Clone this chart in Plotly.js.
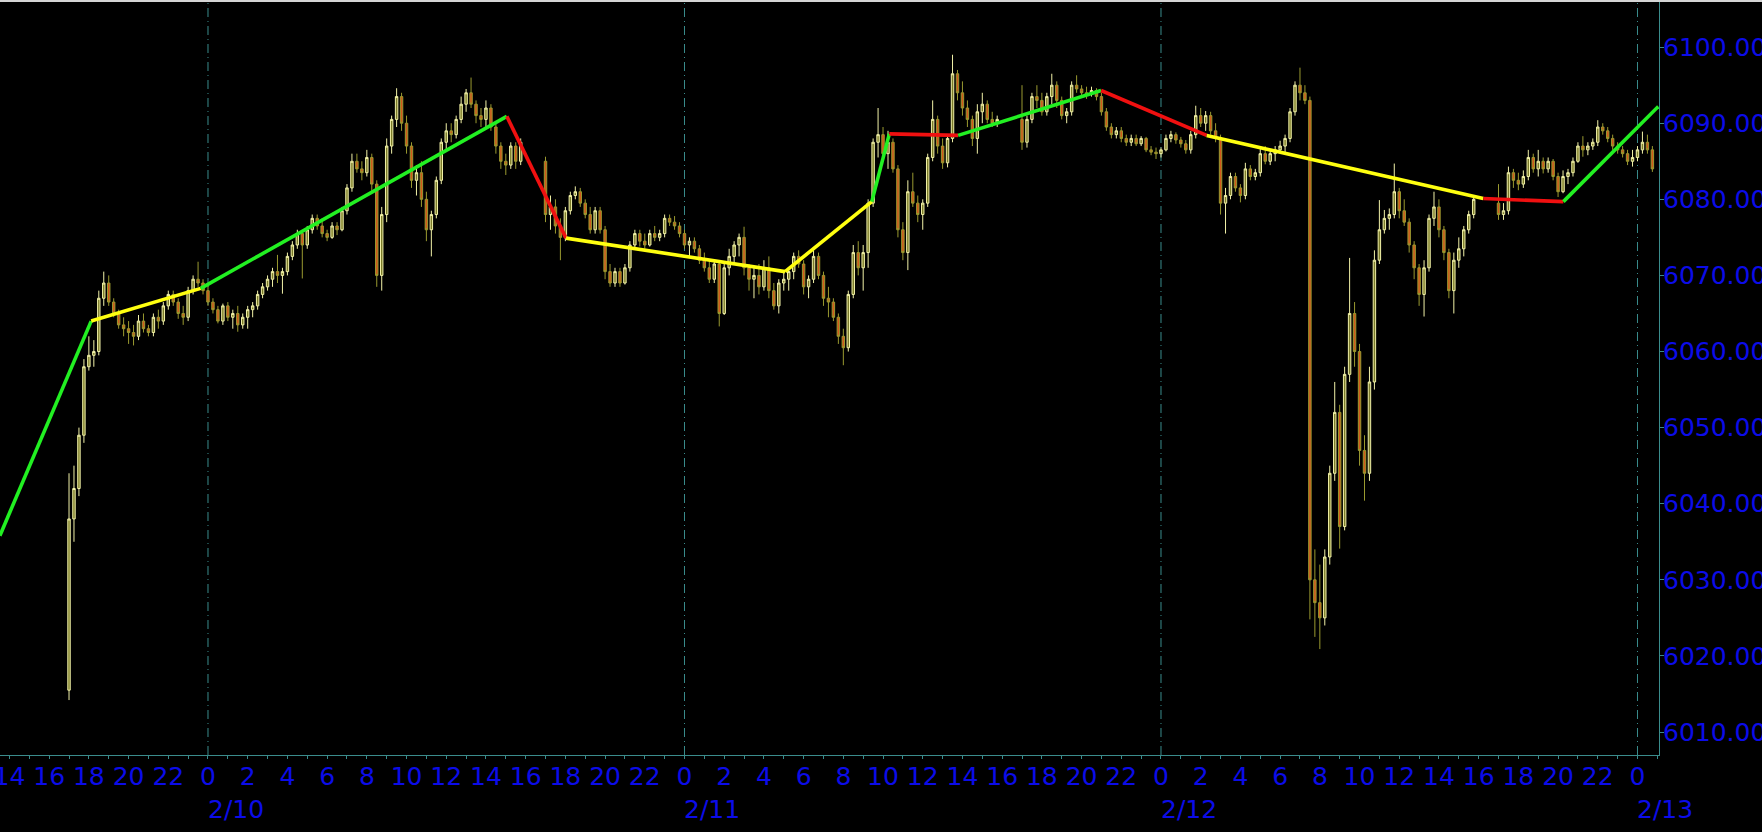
<!DOCTYPE html>
<html><head><meta charset="utf-8">
<script src="https://cdn.plot.ly/plotly-3.0.1.min.js"></script>
<style>
html,body{margin:0;padding:0;background:#000;overflow:hidden}
#topline{height:2px;width:1762px;background:#d4d4d4}
#chart{width:1762px;height:830px}
</style></head>
<body><div id="topline"></div><div id="chart"></div>
<script>
// ---- trading sessions (15-minute bars) ----
const sessionStarts = ['2025-02-09 17:00','2025-02-10 17:00','2025-02-11 17:00','2025-02-12 17:00'];
const sessionBars = [92, 92, 92, 32];
const barMinutes = 15;

// ---- OHLC values ----
const opens = [
 // session 1 (2/9 17:00 - 2/10 16:00)
 6015.5,6038,6042,6049, 6058,6059.5,6060,6067, 6069,6066.5,6065,6063.5, 6063,6062.5,6062,6064, 6063,6062.5,6064.5,6064, 6066,6067.5,6066.5,6065, 6064.5,6068,6069.5,6069,
 6068,6066.5,6065.5,6064, 6066,6064.5,6065,6063.5, 6064.5,6065.5,6066,6067.5, 6068.5,6069.5,6070.5,6070, 6070.5,6072.5,6074,6075.5, 6074,6076,6077.5,6076.5, 6075.5,6075,6076.5,6076, 6078.5,6081.5,6085,6084, 6083.5,6085.5,6082,6070, 6078,6087,6090.5,6093.5, 6090,6087,6082.5,6083.5, 6080,6076,6078,6082.5, 6087.5,6089,6088.5,6090.5, 6092.5,6094,6092.5,6091, 6090.5,6092,6089.5,6087, 6085,6084.5,6087,6085,
 // session 2 (2/10 17:00 - 2/11 16:00)
 6085,6078,6079,6076.5, 6075,6078.5,6080.5,6081, 6079.5,6078,6076,6078.5, 6076,6070.5,6069,6070.5, 6069,6071,6074,6075.5, 6074.5,6074,6075.5,6075, 6075.5,6077.5,6077,6076.5,
 6075.5,6074,6074.5,6073.5, 6072,6071,6069.5,6071.5, 6065,6071,6072.5,6074, 6075,6071,6069.5,6070, 6068.5,6071,6068,6066, 6069,6069.5,6070.5,6072.5, 6071.5,6068.5,6069.5,6072.5, 6070,6067,6066.5,6064.5, 6062,6060.5,6067.5,6073, 6071,6073,6079.5,6087.5, 6088.5,6086,6087.5,6084, 6076,6073,6081,6079.5, 6078,6079.5,6085.5,6090.5, 6087,6084.8,6088,6096.5, 6094,6092,6090.5,6088, 6091.5,6092.5,6090.5,6090,
 // session 3 (2/11 17:00 - 2/12 16:00)
 6090.5,6087.5,6090.5,6093.5, 6093,6091.5,6093.5,6095, 6093,6091,6091.5,6095, 6094.5,6094,6093.8,6094.3, 6093.5,6091.5,6089.5,6088.5, 6089,6088,6087.5,6088, 6087.3,6088,6086.5,6086.2,
 6086,6086.5,6088,6088.5, 6087.8,6087.3,6086.5,6088.5, 6091,6090,6091,6089, 6088,6079.5,6080.5,6083, 6081.5,6080.5,6084,6083, 6083.5,6086,6085,6086, 6086.5,6087,6088,6091.5, 6095,6094,6093,6030, 6027,6025,6033,6044, 6052,6037,6057,6065, 6060,6047,6044,6056, 6072,6076,6077.5,6078, 6081,6078.5,6077,6074, 6071,6067.5,6071,6077.5, 6079,6076,6073,6068, 6072,6073.5,6076,6078,
 // session 4 (2/12 17:00 - 2/13 01:00)
 6079.5,6078,6078.5,6083.5, 6082.5,6082,6083,6085.5, 6084,6085,6084,6085, 6083,6081,6083,6083.5, 6085,6087,6086.5,6087, 6087.5,6089.5,6089,6088, 6087,6086.5,6086,6085, 6085.5,6086.5,6087.5,6086.5
];
const highs = [
 6044,6045,6050,6059, 6062,6061.5,6068,6070.5, 6070,6067,6065.5,6064.5, 6064,6063.5,6064.8,6065, 6063.5,6065,6065.5,6066.5, 6068,6068,6067,6066, 6068.5,6070,6071.8,6069.5,
 6069,6067,6066,6066.3, 6066.5,6065.5,6066,6065, 6066,6066.5,6068,6069, 6070,6071,6072.7,6071, 6073,6074.5,6076,6076, 6076.5,6078,6078,6077.5, 6076,6077,6077,6079, 6082,6086,6086,6085, 6086.5,6086,6082.5,6079, 6088,6091,6094.6,6094, 6091,6087.5,6084.5,6085, 6081,6078.5,6083,6088, 6090,6090,6091,6093.5, 6094.5,6096,6093,6092, 6093,6092.5,6090,6087.5, 6086,6087.5,6087.5,6088,
 6085.6,6080.5,6080,6077.5, 6079,6081,6081.7,6081.5, 6080,6079,6079,6079, 6076.5,6071.5,6071,6071, 6071.5,6074.5,6076,6076, 6075.5,6076,6076.5,6076, 6078,6078,6077.8,6077,
 6076,6075,6075,6074, 6073,6072,6072,6072, 6071.5,6073.5,6074.5,6075.5, 6076.4,6071.5,6071,6071.5, 6072,6072.5,6069,6069.5, 6070.5,6071,6073,6073.3, 6072,6070,6073.3,6073, 6070.5,6068.5,6067,6065, 6063,6068,6074,6074.5, 6074,6080,6088,6092, 6089.5,6089,6088,6084.5, 6077,6082.5,6083.5,6080.5, 6080,6086,6093,6091, 6088,6088.5,6099,6097, 6095.5,6093,6091,6092.5, 6094,6093,6091.5,6091,
 6095,6091,6094,6095, 6094,6094,6096.5,6095.5, 6093.5,6092,6095.5,6096.3, 6095,6094.8,6094.8,6094.6, 6094,6092,6090,6089.5, 6089.5,6088.5,6088.5,6088.5, 6088.3,6088.2,6087,6086.8,
 6086.8,6088.5,6089,6088.8, 6088.2,6087.8,6089,6092.3, 6092,6091.6,6091.5,6090, 6088.5,6081.5,6083.5,6083.5, 6082,6084.8,6084.5,6084, 6086.6,6087,6086.5,6087, 6087.7,6088.5,6092,6095.5, 6097.3,6095,6093.5,6034, 6032,6034,6045,6056, 6053,6058,6072.3,6066.5, 6061,6049,6058,6073.3, 6079.9,6078.6,6078.8,6084.7, 6081.5,6080,6077.5,6074.5, 6071.5,6072,6078,6081, 6080,6076.5,6073.5,6073, 6075,6076.5,6078.5,6080.5,
 6082,6079.5,6084.3,6084, 6083.5,6083.8,6086.5,6086, 6086.5,6085.5,6085.5,6085.3, 6083.5,6083.8,6084,6085.5, 6087.5,6088.3,6087.5,6088, 6090.4,6090,6089.5,6088.5, 6087.5,6087,6086.5,6086.5, 6087,6088.9,6088.5,6087
];
const lows = [
 6014.2,6035,6041,6048, 6057.5,6058,6059.5,6066, 6066,6064.5,6063,6062, 6061,6060.8,6061.5,6062.5, 6062,6062,6063,6063.5, 6065.5,6066,6064.3,6063.5, 6064,6067.5,6068.5,6067.5,
 6066,6065,6063.7,6063.5, 6064,6063,6062.6,6063, 6063,6064.5,6065.5,6067, 6068,6068.5,6069,6067.6, 6070,6072,6073.5,6069.6, 6073.5,6075.5,6076,6075, 6074.5,6074.8,6075.3,6075.8, 6078,6081,6083.5,6082.5, 6083,6081,6068.5,6068, 6077,6086,6089.5,6089, 6086,6081.5,6080.5,6079, 6074.5,6072.5,6077.5,6082, 6086.5,6087.5,6088,6090, 6091.5,6092,6090,6089.5, 6089.5,6089,6086,6084, 6083.2,6084,6084,6084.5,
 6077,6076,6075.5,6072, 6074.5,6078,6080,6079, 6077.5,6075.5,6075.5,6075.5, 6069.5,6068.5,6068.5,6068.5, 6068.8,6070.5,6073.5,6073.8, 6073.5,6073.8,6074.5,6074.5, 6075,6076.5,6076,6075,
 6073.5,6072.5,6073,6071.5, 6070.5,6069,6069,6063.3, 6064.8,6070,6071.5,6072.5, 6070,6068,6067,6067.5, 6068,6067,6065.5,6065, 6068,6068,6069.5,6071, 6067.5,6067,6069,6069.5, 6066,6064.5,6064,6061, 6058.2,6060,6067,6070, 6068,6071,6079,6085.5, 6085,6084,6083.5,6075, 6072,6070.7,6079,6077, 6076,6079,6085,6086, 6084,6084.2,6087.5,6093, 6091,6089.5,6087,6086, 6090,6090,6089.5,6089.5,
 6086.5,6086.8,6090,6092, 6091,6091,6092.5,6092, 6090.5,6090,6091,6094, 6093.5,6093.2,6093.5,6093, 6091,6089,6088,6088, 6087.5,6087,6087,6087, 6087,6086.2,6085.8,6085.3,
 6085.5,6086.3,6087.5,6087.3, 6086.8,6086,6086,6088, 6089.5,6089,6088.5,6087.5, 6078,6075.5,6080,6081, 6079.6,6080,6082.5,6082.5, 6083,6084.6,6084.5,6085, 6086,6086.1,6087.5,6091, 6093,6092.5,6024.8,6022.5, 6020.9,6024,6032,6043, 6034.1,6036.5,6056,6058, 6045,6040.4,6043,6055, 6071.5,6075.5,6076,6077.5, 6077.5,6076.5,6073,6069.5, 6066,6064.6,6070.5,6076.5, 6075,6072,6067,6065, 6071,6072.5,6075.5,6077.5,
 6077.3,6077.3,6078,6081.5, 6081.2,6081.5,6082.5,6083.5, 6083,6083.4,6083.5,6082.5, 6080.3,6080.8,6082,6083, 6084.8,6085.6,6085.8,6086.5, 6087,6088.5,6087.5,6086.5, 6086,6085.5,6084.5,6084.3, 6085,6086,6086,6083.6
];
const closes = [
 6038,6042,6049,6058, 6059.5,6060,6067,6069, 6066.5,6065,6063.5,6063, 6062.5,6062,6064,6063, 6062.5,6064.5,6064,6066, 6067.5,6066.5,6065,6064.5, 6068,6069.5,6069,6068,
 6066.5,6065.5,6064,6066, 6064.5,6065,6063.5,6064.5, 6065.5,6066,6067.5,6068.5, 6069.5,6070.5,6070,6070.5, 6072.5,6074,6075.5,6074, 6076,6077.5,6076.5,6075.5, 6075,6076.5,6076,6078.5, 6081.5,6085,6084,6083.5, 6085.5,6082,6070,6078, 6087,6090.5,6093.5,6090, 6087,6082.5,6083.5,6080, 6076,6078,6082.5,6087.5, 6089,6088.5,6090.5,6092.5, 6094,6092.5,6091,6090.5, 6092,6089.5,6087,6085, 6084.5,6087,6085,6087.5,
 6078,6079,6076.5,6075, 6078.5,6080.5,6081,6079.5, 6078,6076,6078.5,6076, 6070.5,6069,6070.5,6069, 6071,6074,6075.5,6074.5, 6074,6075.5,6075,6075.5, 6077.5,6077,6076.5,6075.5,
 6074,6074.5,6073.5,6072, 6071,6069.5,6071.5,6065, 6071,6072.5,6074,6075, 6071,6069.5,6070,6068.5, 6071,6068,6066,6069, 6069.5,6070.5,6072.5,6071.5, 6068.5,6069.5,6072.5,6070, 6067,6066.5,6064.5,6062, 6060.5,6067.5,6073,6071, 6073,6079.5,6087.5,6088.5, 6086,6087.5,6084,6076, 6073,6081,6079.5,6078, 6079.5,6085.5,6090.5,6087, 6084.8,6088,6096.5,6094, 6092,6090.5,6088,6091.5, 6092.5,6090.5,6090,6090.5,
 6087.5,6090.5,6093.5,6093, 6091.5,6093.5,6095,6093, 6091,6091.5,6095,6094.5, 6094,6093.8,6094.3,6093.5, 6091.5,6089.5,6088.5,6089, 6088,6087.5,6088,6087.3, 6088,6086.5,6086.2,6086,
 6086.5,6088,6088.5,6087.8, 6087.3,6086.5,6088.5,6091, 6090,6091,6089,6088, 6079.5,6080.5,6083,6081.5, 6080.5,6084,6083,6083.5, 6086,6085,6086,6086.5, 6087,6088,6091.5,6095, 6094,6093,6030,6027, 6025,6033,6044,6052, 6037,6057,6065,6060, 6047,6044,6056,6072, 6076,6077.5,6078,6081, 6078.5,6077,6074,6071, 6067.5,6071,6077.5,6079, 6076,6073,6068,6072, 6073.5,6076,6078,6080,
 6078,6078.5,6083.5,6082.5, 6082,6083,6085.5,6084, 6085,6084,6085,6083, 6081,6083,6083.5,6085, 6087,6086.5,6087,6087.5, 6089.5,6089,6088,6087, 6086.5,6086,6085,6085.5, 6086.5,6087.5,6086.5,6084
];

// ---- trend segments (swing points) ----
const segTimes = ['2025-02-09 13:31','2025-02-09 18:07','2025-02-09 23:38','2025-02-10 15:03','2025-02-10 18:02',
  '2025-02-11 05:04','2025-02-11 09:26','2025-02-11 10:19','2025-02-11 13:47','2025-02-11 20:59',
  '2025-02-12 02:18','2025-02-12 16:14','2025-02-12 20:16','2025-02-13 01:03'];
const segPrices = [6035.8,6064.0,6068.3,6090.9,6074.9,6070.5,6079.7,6088.6,6088.4,6094.3,6088.4,6080.1,6079.7,6092.2];
const segKinds = ['up','flat','up','down','flat','flat','up','down','up','down','flat','down','up'];

// ---- axis labels ----
const dayLabels = ['2/10','2/11','2/12','2/13'];
const dayDates = ['2025-02-10 00:00','2025-02-11 00:00','2025-02-12 00:00','2025-02-13 00:00'];
const priceTicks = [6010,6020,6030,6040,6050,6060,6070,6080,6090,6100];

// ---------- build ----------
const kindColor = {up:'#22f022', flat:'#ffff10', down:'#f01010'};
const axisColor = '#3a8c8c';
const labelFont = {family:'DejaVu Sans, Verdana, sans-serif', size:25, color:'#0c0ce8'};

function fmt(d){
  const p = n => String(n).padStart(2,'0');
  return d.getUTCFullYear()+'-'+p(d.getUTCMonth()+1)+'-'+p(d.getUTCDate())+' '+p(d.getUTCHours())+':'+p(d.getUTCMinutes());
}
function parse(s){ return Date.parse(s.replace(' ','T')+':00Z'); }

const times = [];
sessionStarts.forEach((s,i)=>{
  const base = parse(s);
  for(let k=0;k<sessionBars[i];k++) times.push(fmt(new Date(base + k*barMinutes*60000)));
});

const traces = [{
  type:'candlestick', x:times, open:opens, high:highs, low:lows, close:closes,
  increasing:{line:{color:'#f2f2a8', width:1}, fillcolor:'#7c7c2a'},
  decreasing:{line:{color:'#9a9a30', width:1}, fillcolor:'#d2581c'},
  whiskerwidth:0, hoverinfo:'skip', showlegend:false
}];
for(let i=0;i<segKinds.length;i++){
  traces.push({type:'scatter', mode:'lines', x:[segTimes[i],segTimes[i+1]], y:[segPrices[i],segPrices[i+1]],
    line:{color:kindColor[segKinds[i]], width:3.6}, hoverinfo:'skip', showlegend:false});
}

// hourly ticks, labels every 2 hours
const xStart = '2025-02-09 13:31:26', xEnd = '2025-02-13 01:05:00';
const tickVals = [], tickText = [];
for(let t=parse('2025-02-09 14:00'); t<=parse('2025-02-13 01:00'); t+=3600000){
  const d = new Date(t);
  tickVals.push(fmt(d));
  tickText.push(d.getUTCHours()%2===0 ? String(d.getUTCHours()) : '');
}

const shapes = dayDates.map(d=>({type:'line', xref:'x', yref:'paper', x0:d, x1:d, y0:0, y1:1, layer:'below',
  line:{color:axisColor, width:1, dash:'9px,4px,1px,4px'}}));
const annotations = dayDates.map((d,i)=>({xref:'x', yref:'paper', x:d, y:-0.051, xanchor:'left', yanchor:'top',
  text:dayLabels[i], showarrow:false, font:labelFont, xshift:-2}));

const layout = {
  width:1762, height:830,
  margin:{l:0, r:103, t:0, b:77, pad:0},
  paper_bgcolor:'#000000', plot_bgcolor:'#000000',
  showlegend:false, hovermode:false,
  xaxis:{type:'date', range:[xStart,xEnd], rangeslider:{visible:false}, showgrid:false, zeroline:false,
    showline:true, linecolor:axisColor, linewidth:1, tickmode:'array', tickvals:tickVals, ticktext:tickText,
    ticks:'outside', ticklen:3, tickcolor:axisColor, tickfont:labelFont, tickangle:0, fixedrange:true,
    ticklabeloverflow:'allow', ticklabelstandoff:-4},
  yaxis:{side:'right', range:[6006.98,6105.93], tickmode:'array', tickvals:priceTicks, tickformat:'.2f',
    ticks:'outside', ticklen:4, tickcolor:axisColor, showline:true, linecolor:axisColor, linewidth:1,
    showgrid:false, zeroline:false, tickfont:labelFont, fixedrange:true, ticklabelstandoff:-6},
  shapes:shapes, annotations:annotations
};
Plotly.newPlot('chart', traces, layout, {displayModeBar:false, staticPlot:true});
</script>
</body></html>
